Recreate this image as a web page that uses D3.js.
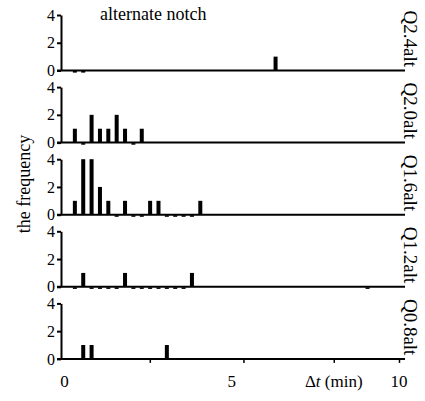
<!DOCTYPE html>
<html lang="en">
<head>
  <meta charset="UTF-8">
  <title>alternate notch</title>
  <script src="https://d3js.org/d3.v7.min.js"></script>
  <style>
    body { margin: 0; background: #fff; }
    svg text { font-family: "Liberation Serif", "Times New Roman", serif; fill: #000; }
  </style>
</head>
<body>
  <script>
    // panels, top to bottom
    const seriesNames = ["Q2.4alt", "Q2.0alt", "Q1.6alt", "Q1.2alt", "Q0.8alt"];

    // bin centres (min) and counts; 0 = empty bin mark on the baseline
    const q24Bins = [0.25, 0.5, 6.25];
    const q24Counts = [0, 0, 1];
    const q20Bins = [0.25, 0.5, 0.75, 1.0, 1.25, 1.5, 1.75, 2.0, 2.25];
    const q20Counts = [1, 0, 2, 1, 1, 2, 1, 0, 1];
    const q16Bins = [0.25, 0.5, 0.75, 1.0, 1.25, 1.5, 1.75, 2.0, 2.25, 2.5, 2.75, 3.0, 3.25, 3.5, 3.75, 4.0];
    const q16Counts = [1, 4, 4, 2, 1, 0, 1, 0, 0, 1, 1, 0, 0, 0, 0, 1];
    const q12Bins = [0.25, 0.5, 0.75, 1.0, 1.25, 1.5, 1.75, 2.0, 2.25, 2.5, 2.75, 3.0, 3.25, 3.5, 3.75, 9.0];
    const q12Counts = [0, 1, 0, 0, 0, 0, 1, 0, 0, 0, 0, 0, 0, 0, 1, 0];
    const q08Bins = [0.5, 0.75, 3.0];
    const q08Counts = [1, 1, 1];

    const yTicks = [0, 2, 4];
    const xTickMarks = [2.55, 5.35, 8.05, 10];
    const xTickLabels = [0, 5, 10];
    const xTitlePos = 8.05;

    const bins = [q24Bins, q20Bins, q16Bins, q12Bins, q08Bins];
    const counts = [q24Counts, q20Counts, q16Counts, q12Counts, q08Counts];

    const width = 425, height = 401;
    const axisX = 61, lineStart = 57, lineEnd = 405;
    const barW = 4;
    const serif = "'Liberation Serif', 'Times New Roman', serif";

    const svg = d3.select("body").append("svg")
      .attr("width", width)
      .attr("height", height);

    const x = d3.scaleLinear().domain([0, 10]).range([64.5, 399]);

    const panel = d3.scaleBand()
      .domain(seriesNames)
      .range([15, 358.9])
      .paddingInner(0.2302)
      .paddingOuter(0);

    seriesNames.forEach((name, i) => {
      const top = panel(name);
      const y = d3.scaleLinear().domain([0, 4]).range([top + panel.bandwidth(), top]);
      const base = y(0);
      const g = svg.append("g");
      const data = bins[i].map((b, j) => ({ b: b, c: counts[i][j] }));

      // baseline
      g.append("line")
        .attr("x1", lineStart).attr("x2", lineEnd)
        .attr("y1", base).attr("y2", base)
        .attr("stroke", "#000").attr("stroke-width", 2);

      // bars
      g.selectAll("rect.bar")
        .data(data.filter(d => d.c > 0))
        .join("rect")
        .attr("class", "bar")
        .attr("x", d => x(d.b))
        .attr("width", barW)
        .attr("y", d => y(d.c))
        .attr("height", d => base - y(d.c))
        .attr("fill", "#000");

      // empty bins: little dash under the baseline
      g.selectAll("rect.zero")
        .data(data.filter(d => d.c === 0))
        .join("rect")
        .attr("class", "zero")
        .attr("x", d => x(d.b))
        .attr("width", barW)
        .attr("y", base + 0.5)
        .attr("height", 1.6)
        .attr("fill", "#000");

      // y axis
      const ya = g.append("g")
        .attr("transform", `translate(${axisX},0)`)
        .call(d3.axisLeft(y).tickValues(yTicks).tickFormat(d3.format("d"))
          .tickSize(4).tickSizeOuter(0).tickPadding(2));
      ya.attr("font-family", null).attr("font-size", null);
      ya.selectAll(".tick text").style("font-family", serif).style("font-size", "16px");
      ya.select(".domain").attr("stroke-width", 2);
      ya.selectAll(".tick line").attr("stroke-width", 2);

      // series label on the right
      g.append("text")
        .attr("transform", `translate(404,${top + panel.bandwidth() / 2 - 4}) rotate(90)`)
        .attr("text-anchor", "middle")
        .style("font-family", serif)
        .style("font-size", "19px")
        .text(name);

      if (i === seriesNames.length - 1) {
        const xa = g.append("g")
          .attr("transform", `translate(0,${base})`)
          .call(d3.axisBottom(x).tickValues(xTickMarks).tickSize(4).tickSizeOuter(0).tickFormat(""));
        xa.select(".domain").remove();
        xa.selectAll(".tick line").attr("stroke-width", 1.5);

        g.selectAll("text.xl")
          .data(xTickLabels)
          .join("text")
          .attr("class", "xl")
          .attr("x", d => x(d))
          .attr("y", base + 28)
          .attr("text-anchor", "middle")
          .style("font-family", serif)
          .style("font-size", "17px")
          .text(d => d);

        const t = g.append("text")
          .attr("x", x(xTitlePos))
          .attr("y", base + 28)
          .attr("text-anchor", "middle")
          .style("font-family", serif)
          .style("font-size", "17px");
        t.append("tspan").text("\u0394");
        t.append("tspan").style("font-style", "italic").text("t");
        t.append("tspan").text(" (min)");
      }
    });

    svg.append("text")
      .attr("x", 100)
      .attr("y", 20)
      .style("font-family", serif)
      .style("font-size", "18px")
      .text("alternate notch");

    svg.append("text")
      .attr("transform", `translate(30,184) rotate(-90)`)
      .attr("text-anchor", "middle")
      .style("font-family", serif)
      .style("font-size", "18px")
      .text("the frequency");
  </script>
</body>
</html>
